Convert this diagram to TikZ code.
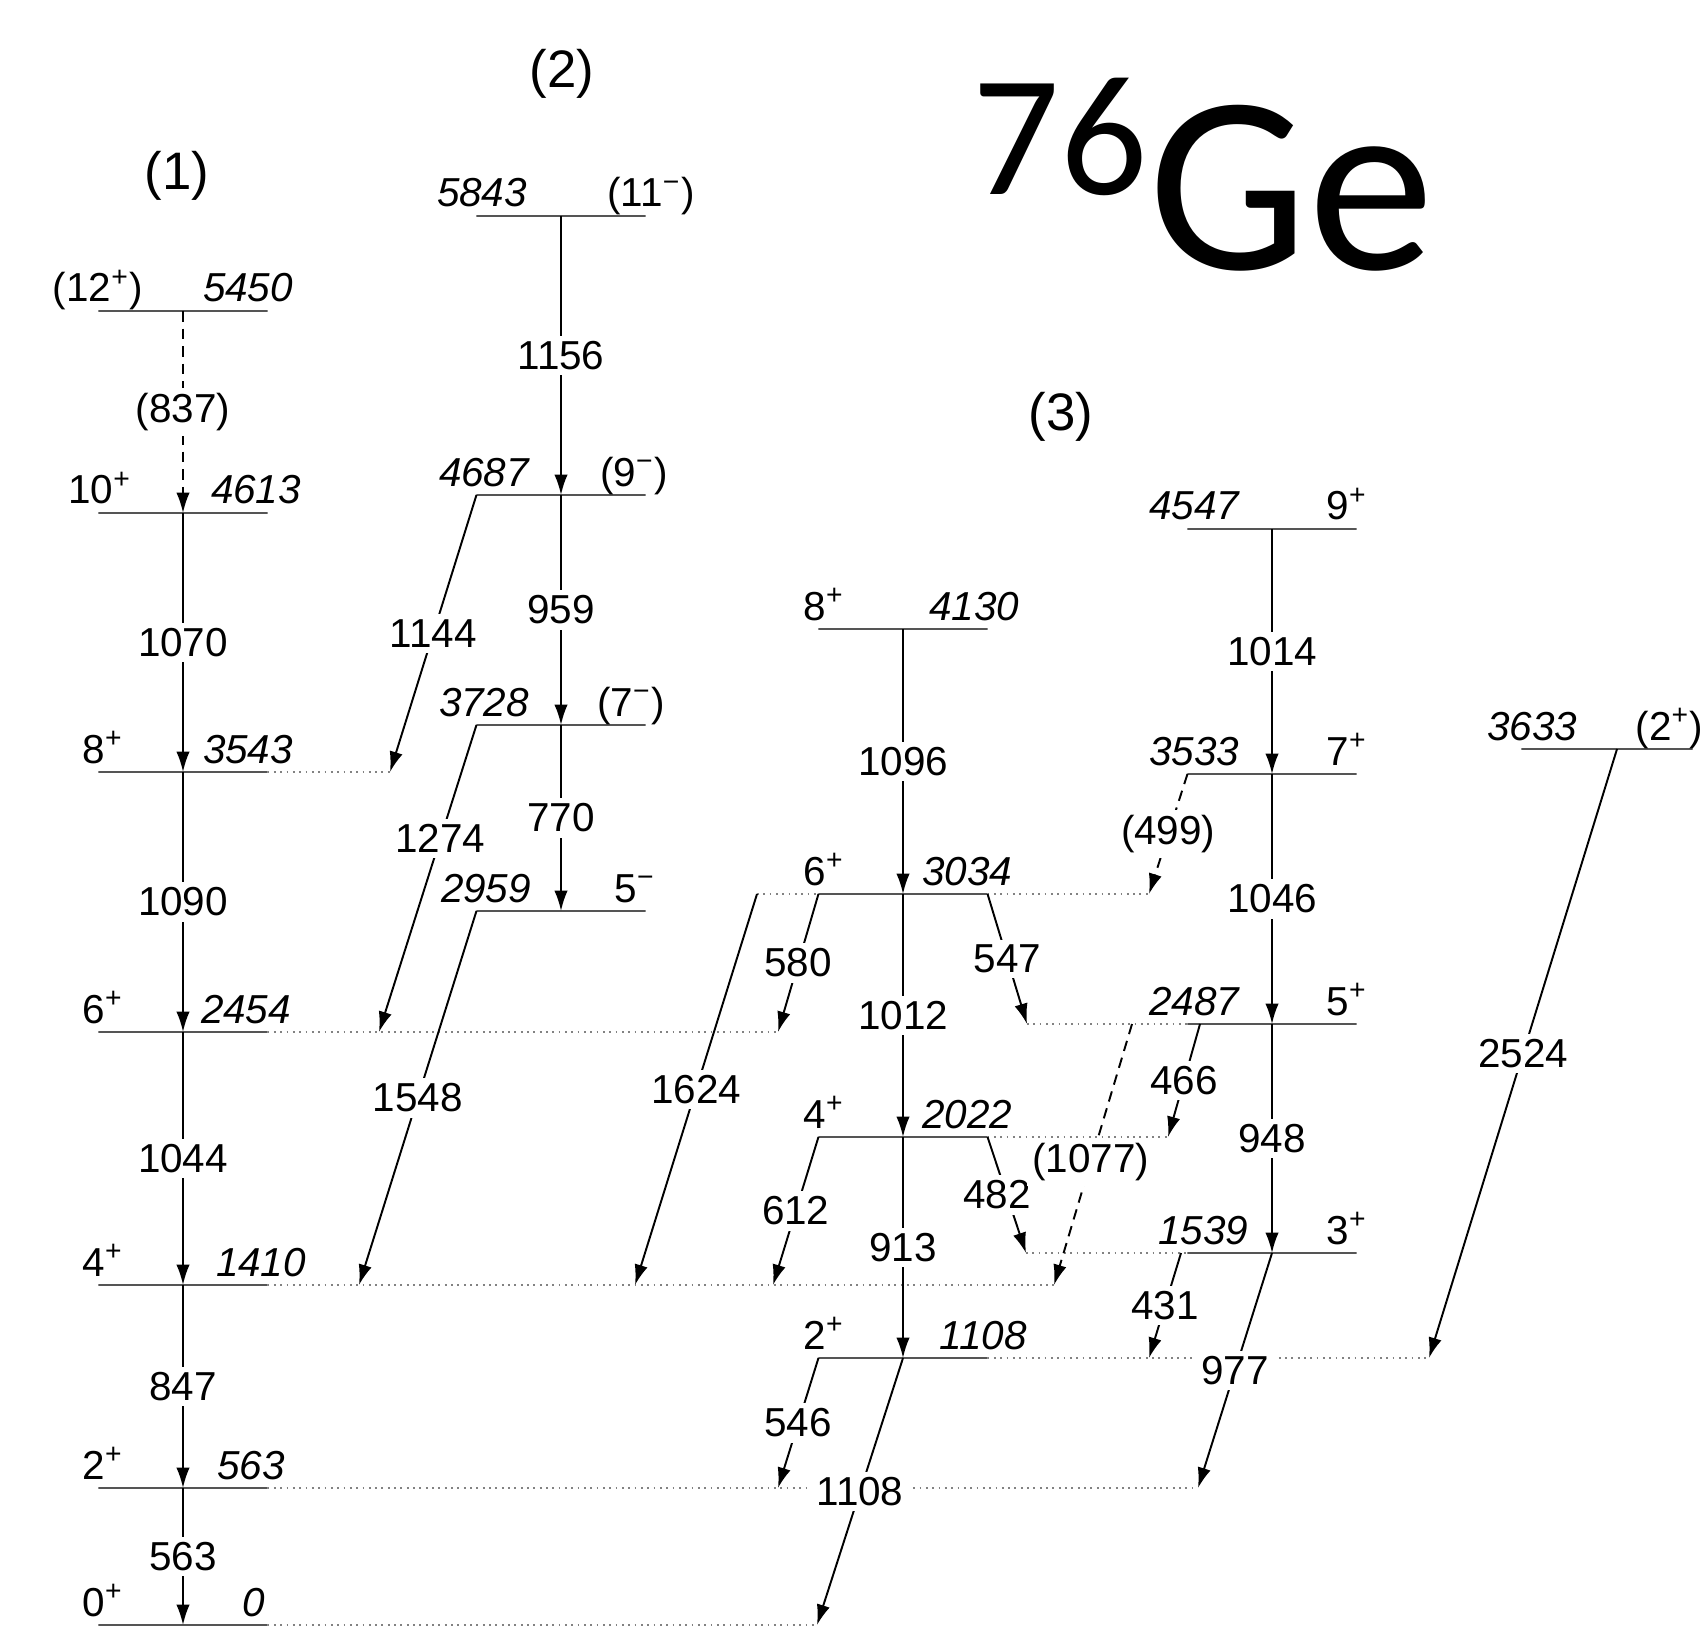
\documentclass[tikz,border=0pt]{standalone}
\usepackage{fontspec}
\setmainfont{Liberation Sans}
\newfontfamily\isofont{Carlito}
\usepackage{tikz}
\usetikzlibrary{arrows.meta, positioning, calc}
\definecolor{lvlgray}{RGB}{85,85,85}
\definecolor{extgray}{RGB}{130,130,130}
\newcommand{\parP}{\textsuperscript{+}}
\newcommand{\parM}{\textsuperscript{−}}
\tikzset{
  lvl/.style={rectangle, draw=lvlgray, minimum width=1.69cm, minimum height=0pt,
    inner sep=0pt, outer sep=0pt, line width=0.5pt},
  ext/.style={draw=extgray, line width=0.45pt, dash pattern=on 0.5pt off 1.3pt},
  gam/.style={-{Latex[length=5.8pt,width=3.8pt]}, line width=0.55pt, color=black},
  tent/.style={gam, dash pattern=on 3pt off 2pt},
  glab/.style={fill=white, inner sep=1.5pt, font=\fontsize{11.5}{12}\selectfont},
  spin/.style={anchor=base, inner sep=0pt, font=\fontsize{11.5}{12}\selectfont},
  ener/.style={anchor=base, inner sep=0pt, font=\fontsize{11.5}{12}\selectfont\itshape},
  band/.style={font=\fontsize{15}{16}\selectfont}
}

\begin{document}
\begin{tikzpicture}[x=0.01cm, y=-0.01cm]
  \useasboundingbox (0,0) rectangle (1707,1631);

  % Titles
  \node[band] (b1) at (177,176) {(1)};
  \node[band] (b2) at (562,74) {(2)};
  \node[band] (b3) at (1061,417) {(3)};
  \node[anchor=base west, inner sep=0pt, font=\isofont\fontsize{72}{72}\selectfont] (elem) at (1148,270) {Ge};
  \node[anchor=base east, inner sep=0pt, font=\isofont\fontsize{49}{49}\selectfont] (mass) at ([yshift=0.75cm]elem.base west) {76};

  % Ends of the transitions that fall outside a level
  \coordinate (x1144) at (390,772);
  \coordinate (x1274) at (379,1032);
  \coordinate (x580) at (778,1032);
  \coordinate (x1548) at (359,1285);
  \coordinate (x1624) at (635,1285);
  \coordinate (x612) at (773,1285);
  \coordinate (x1077) at (1054,1285);
  \coordinate (x546) at (778,1488);
  \coordinate (x977) at (1198,1488);
  \coordinate (x1108) at (817,1625);
  \coordinate (s1624) at (757,894);
  \coordinate (x499) at (1149,894);
  \coordinate (x547) at (1027,1024);
  \coordinate (s1077) at (1132,1024);
  \coordinate (s466) at (1200,1024);
  \coordinate (x466) at (1168,1137);
  \coordinate (x482) at (1026,1253);
  \coordinate (s431) at (1181,1253);
  \coordinate (x431) at (1149,1358);
  \coordinate (x2524) at (1429,1358);
  \coordinate (s2524) at (1617,749);

  % Band (1)
  \node[lvl] (g5450) at (183,311) {};
  \node[lvl] (g4613) at (183,513) {};
  \node[lvl] (g3543) at (183,772) {};
  \node[lvl] (g2454) at (183,1032) {};
  \node[lvl] (g1410) at (183,1285) {};
  \node[lvl] (g563) at (183,1488) {};
  \node[lvl] (g0) at (183,1625) {};

  % Band (2)
  \node[lvl] (g5843) at (561,216) {};
  \node[lvl] (g4687) at (561,495) {};
  \node[lvl] (g3728) at (561,725) {};
  \node[lvl] (g2959) at (561,911) {};

  % Band (3)
  \node[lvl] (g4130) at (903,629) {};
  \node[lvl] (g3034) at (903,894) {};
  \node[lvl] (g2022) at (903,1137) {};
  \node[lvl] (g1108) at (903,1358) {};
  \node[lvl] (g4547) at (1272,529) {};
  \node[lvl] (g3533) at (1272,774) {};
  \node[lvl] (g2487) at (1272,1024) {};
  \node[lvl] (g1539) at (1272,1253) {};
  \node[lvl, minimum width=1.71cm] (g3633) at (1607,749) {};

  % Dotted continuations of the levels
  \draw[ext] (g3543.east) -- (x1144);
  \draw[ext] (g2454.east) -- (x580);
  \draw[ext] (g1410.east) -- (x1077);
  \draw[ext] (g563.east) -- (x977);
  \draw[ext] (g0.east) -- (x1108);
  \draw[ext] (s1624) -- (g3034.west);
  \draw[ext] (g3034.east) -- (x499);
  \draw[ext] (x547) -- (g2487.west);
  \draw[ext] (g2022.east) -- (x466);
  \draw[ext] (x482) -- (g1539.west);
  \draw[ext] (g1108.east) -- (x2524);

  % Level labels
  \node[spin] (s5450) at (98,302) {(12\parP)};
  \node[ener] (e5450) at (248,302) {5450};
  \node[spin] (s4613) at (100,504) {10\parP};
  \node[ener] (e4613) at (256,504) {4613};
  \node[spin] (s3543) at (103,763) {8\parP};
  \node[ener] (e3543) at (248,763) {3543};
  \node[spin] (s2454) at (103,1023) {6\parP};
  \node[ener] (e2454) at (246,1023) {2454};
  \node[spin] (s1410) at (103,1276) {4\parP};
  \node[ener] (e1410) at (261,1276) {1410};
  \node[spin] (s563) at (103,1479) {2\parP};
  \node[ener] (e563) at (251,1479) {563};
  \node[spin] (s0) at (103,1616) {0\parP};
  \node[ener] (e0) at (254,1616) {0};

  \node[ener] (e5843) at (482,207) {5843};
  \node[spin] (s5843) at (651,207) {(11\parM)};
  \node[ener] (e4687) at (484,486) {4687};
  \node[spin] (s4687) at (634,486) {(9\parM)};
  \node[ener] (e3728) at (484,716) {3728};
  \node[spin] (s3728) at (631,716) {(7\parM)};
  \node[ener] (e2959) at (486,902) {2959};
  \node[spin] (s2959) at (635,902) {5\parM};

  \node[spin] (s4130) at (824,620) {8\parP};
  \node[ener] (e4130) at (974,620) {4130};
  \node[spin] (s3034) at (824,885) {6\parP};
  \node[ener] (e3034) at (967,885) {3034};
  \node[spin] (s2022) at (824,1128) {4\parP};
  \node[ener] (e2022) at (967,1128) {2022};
  \node[spin] (s1108) at (824,1349) {2\parP};
  \node[ener] (e1108) at (983,1349) {1108};

  \node[ener] (e4547) at (1194,520) {4547};
  \node[spin] (s4547) at (1347,520) {9\parP};
  \node[ener] (e3533) at (1194,765) {3533};
  \node[spin] (s3533) at (1347,765) {7\parP};
  \node[ener] (e2487) at (1194,1015) {2487};
  \node[spin] (s2487) at (1347,1015) {5\parP};
  \node[ener] (e1539) at (1203,1244) {1539};
  \node[spin] (s1539) at (1347,1244) {3\parP};

  \node[ener] (e3633) at (1532,740) {3633};
  \node[spin, anchor=base east] (s3633) at (1704,740) {(2\parP)};

  % Transitions, band (1)
  \draw[tent] (g5450) -- (g4613) node[glab, midway] (t837) {(837)};
  \draw[gam] (g4613) -- (g3543) node[glab, midway] (t1070) {1070};
  \draw[gam] (g3543) -- (g2454) node[glab, midway] (t1090) {1090};
  \draw[gam] (g2454) -- (g1410) node[glab, midway] (t1044) {1044};
  \draw[gam] (g1410) -- (g563) node[glab, midway] (t847) {847};
  \draw[gam] (g563) -- (g0) node[glab, midway] (t563) {563};

  % Transitions, band (2)
  \draw[gam] (g5843) -- (g4687) node[glab, midway] (t1156) {1156};
  \draw[gam] (g4687) -- (g3728) node[glab, midway] (t959) {959};
  \draw[gam] (g3728) -- (g2959) node[glab, midway] (t770) {770};
  \draw[gam] (g4687.west) -- (x1144) node[glab, midway] (t1144) {1144};
  \draw[gam] (g3728.west) -- (x1274) node[glab, pos=0.37] (t1274) {1274};
  \draw[gam] (g2959.west) -- (x1548) node[glab, midway] (t1548) {1548};

  % Transitions, band (3)
  \draw[gam] (g4130) -- (g3034) node[glab, midway] (t1096) {1096};
  \draw[gam] (g3034) -- (g2022) node[glab, midway] (t1012) {1012};
  \draw[gam] (g2022) -- (g1108) node[glab, midway] (t913) {913};
  \draw[gam] (g3034.west) -- (x580) node[glab, midway] (t580) {580};
  \draw[gam] (g3034.east) -- (x547) node[glab, midway] (t547) {547};
  \draw[gam] (s1624) -- (x1624) node[glab, midway] (t1624) {1624};
  \draw[gam] (g2022.west) -- (x612) node[glab, midway] (t612) {612};
  \draw[gam] (g2022.east) -- (x482) node[glab, midway, xshift=-0.1cm] (t482) {482};
  \draw[gam] (g1108.west) -- (x546) node[glab, midway] (t546) {546};
  \draw[gam] (g1108) -- (x1108) node[glab, midway] (t1108) {1108};

  % Transitions, side band
  \draw[gam] (g4547) -- (g3533) node[glab, midway] (t1014) {1014};
  \draw[gam] (g3533) -- (g2487) node[glab, midway] (t1046) {1046};
  \draw[gam] (g2487) -- (g1539) node[glab, midway] (t948) {948};
  \draw[tent] (g3533.west) -- (x499) node[glab, midway] (t499) {(499)};
  \draw[gam] (s466) -- (x466) node[glab, midway] (t466) {466};
  \draw[tent] (s1077) -- (x1077) node[glab, pos=0.53] (t1077) {(1077)};
  \draw[gam] (s431) -- (x431) node[glab, midway] (t431) {431};
  \draw[gam] (g1539) -- (x977) node[glab, midway] (t977) {977};
  \draw[gam] (s2524) -- (x2524) node[glab, midway] (t2524) {2524};
\end{tikzpicture}
\end{document}
